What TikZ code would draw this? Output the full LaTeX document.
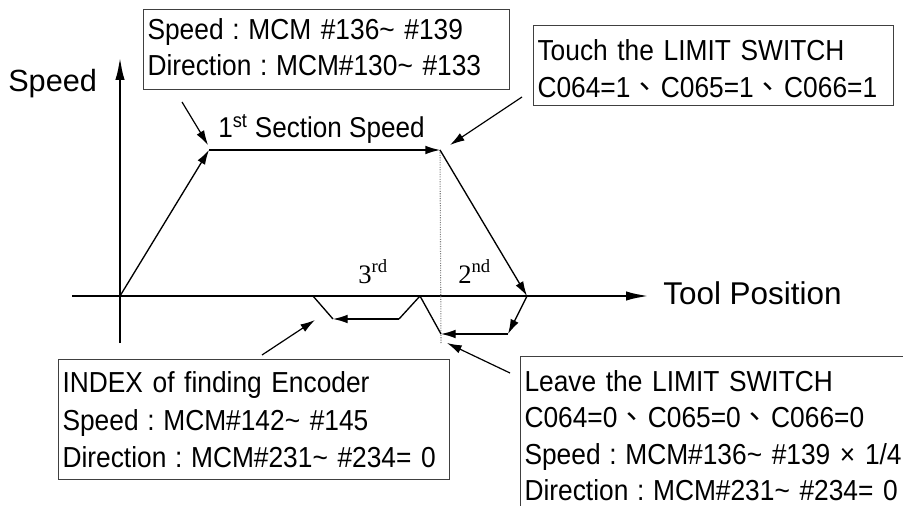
\documentclass[tikz,border=0pt]{standalone}
\usepackage{fontspec}
\setmainfont{Liberation Sans}
\newfontfamily\serifnum{Liberation Serif}
\newfontfamily\boxfont[FakeStretch=0.91]{Liberation Sans}
\newfontfamily\cjk{Noto Sans CJK TC}
\usetikzlibrary{arrows.meta}
\newcommand{\fcol}{\hspace{0.3em}:\hspace{0.3em}}
\newcommand{\dun}{\makebox[1.05em][l]{\cjk 、}}
\newcommand{\upst}[1]{\rule{0pt}{#1}}
\newcommand{\dnst}[1]{\rule[-#1]{0pt}{#1}}
\tikzset{
  axisline/.style={line width=2.2pt,-{Latex[length=18pt,width=7pt]}},
  moveline/.style={line width=1pt},
  movearrow/.style={line width=1pt,-{Latex[length=11pt,width=6.5pt]}},
  notearrow/.style={line width=0.9pt,-{Latex[length=11pt,width=6.5pt]}},
  infobox/.style={draw=black!75,line width=0.8pt,anchor=north west,inner sep=3pt,align=left,font=\boxfont\fontsize{21.7}{27}\selectfont},
}
\begin{document}
\begin{tikzpicture}[x=0.75pt,y=0.75pt,yscale=-1,xscale=1]
\useasboundingbox (0,0) rectangle (903,506);
\clip (0,0) rectangle (903,506);

%Points of the speed profile
\coordinate (org) at (120,296);
\coordinate (acc) at (209,150);
\coordinate (dec) at (440,150);
\coordinate (rev) at (527,296);
\coordinate (lowR) at (508,334);
\coordinate (lowL) at (441,334);
\coordinate (back) at (420,296);
\coordinate (idxR) at (399,319);
\coordinate (idxL) at (333,319);
\coordinate (stop) at (313,296);
\coordinate (xbeg) at (72,296);
\coordinate (xend) at (650,296);
\coordinate (ybeg) at (120,343);
\coordinate (yend) at (120,56);
\coordinate (mark) at (441,343);

%Axes
\draw [axisline] (xbeg) -- (xend) ;
\draw [axisline] (ybeg) -- (yend) ;

%Dotted marker
\draw [gray,densely dotted,line width=0.8pt] (dec) -- (mark) ;

%1st section
\draw [movearrow] (org) -- (acc) ;
\draw [movearrow] (acc) -- (dec) ;
\draw [movearrow] (dec) -- (rev) ;
%2nd section
\draw [movearrow] (rev) -- (lowR) ;
\draw [movearrow] (lowR) -- (lowL) ;
\draw [moveline] (lowL) -- (back) ;
%3rd section
\draw [moveline] (back) -- (idxR) ;
\draw [movearrow] (idxR) -- (idxL) ;
\draw [moveline] (idxL) -- (stop) ;

% Text Node
\draw (8,92) node (speedlbl) [anchor=base west][inner sep=0pt] [font=\fontsize{23}{23}\selectfont] {Speed};
% Text Node
\draw (663,304) node (poslbl) [anchor=base west][inner sep=0pt] [font=\fontsize{23.6}{23.6}\selectfont] {Tool Position};
% Text Node
\draw (218,138) node (firstlbl) [anchor=base west][inner sep=0pt] [font=\boxfont\fontsize{21.5}{21.5}\selectfont] {1\textsuperscript{st} Section Speed};
% Text Node
\draw (358,283) node (thirdlbl) [anchor=base west][inner sep=0pt] [font=\serifnum\fontsize{20}{20}\selectfont] {3\textsuperscript{rd}};
% Text Node
\draw (458,283) node (secondlbl) [anchor=base west][inner sep=0pt] [font=\serifnum\fontsize{20}{20}\selectfont] {2\textsuperscript{nd}};

%Boxes
\draw (143,9) node (spdbox) [infobox,minimum width=274.5pt,minimum height=60pt,text width=268.5pt] {\upst{18pt}Speed\fcol MCM \#136\textasciitilde{} \#139\\Direction\fcol MCM\#130\textasciitilde{} \#133\dnst{6pt}};
\draw (533,25) node (touchbox) [infobox,minimum width=270pt,minimum height=60pt,text width=264pt,font=\boxfont\fontsize{21.7}{27.75}\selectfont] {\upst{23.25pt}Touch the LIMIT SWITCH\\C064=1\dun C065=1\dun C066=1\dnst{3pt}};
\draw (58,359) node (indexbox) [infobox,minimum width=293.25pt,minimum height=90pt,text width=287.25pt,font=\boxfont\fontsize{21.7}{28.1}\selectfont] {\upst{20.75pt}INDEX of finding Encoder\\Speed\fcol MCM\#142\textasciitilde{} \#145\\Direction\fcol MCM\#231\textasciitilde{} \#234= 0\dnst{5pt}};
\draw (520,356) node (leavebox) [infobox,minimum width=330pt,minimum height=117pt,text width=324pt,font=\boxfont\fontsize{21.7}{27.25}\selectfont] {\upst{22.25pt}Leave the LIMIT SWITCH\\C064=0\dun C065=0\dun C066=0\\Speed\fcol MCM\#136\textasciitilde{} \#139 × 1/4\\Direction\fcol MCM\#231\textasciitilde{} \#234= 0\dnst{5pt}};

%Pointers
\coordinate (spdfrom) at (182,102);
\coordinate (spdto) at (208,145);
\coordinate (touchfrom) at (522,97);
\coordinate (touchto) at (450,145);
\coordinate (indexfrom) at (262,355);
\coordinate (indexto) at (315,320);
\coordinate (leavefrom) at (510,373);
\coordinate (leaveto) at (447,343);
\draw [notearrow] (spdfrom) -- (spdto) ;
\draw [notearrow] (touchfrom) -- (touchto) ;
\draw [notearrow] (indexfrom) -- (indexto) ;
\draw [notearrow] (leavefrom) -- (leaveto) ;

\end{tikzpicture}
\end{document}
